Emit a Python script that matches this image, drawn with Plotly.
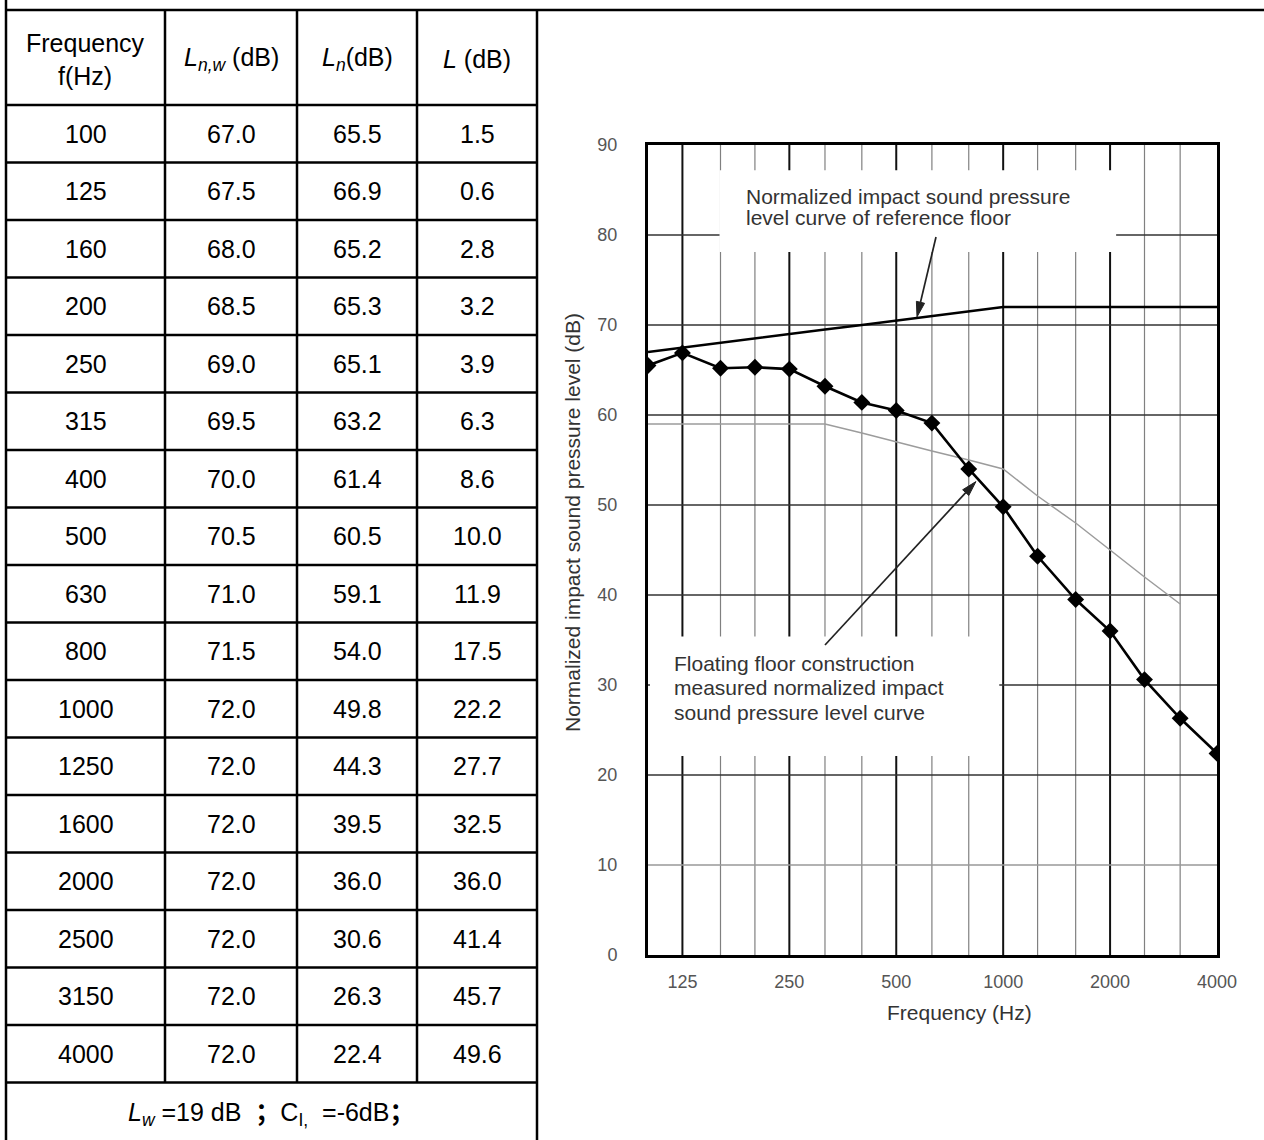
import math
import plotly.graph_objects as go

# ---------------- data ----------------
freq = [100, 125, 160, 200, 250, 315, 400, 500, 630, 800, 1000, 1250, 1600, 2000, 2500, 3150, 4000]
Lnw = [67.0, 67.5, 68.0, 68.5, 69.0, 69.5, 70.0, 70.5, 71.0, 71.5, 72.0, 72.0, 72.0, 72.0, 72.0, 72.0, 72.0]
Ln = [65.5, 66.9, 65.2, 65.3, 65.1, 63.2, 61.4, 60.5, 59.1, 54.0, 49.8, 44.3, 39.5, 36.0, 30.6, 26.3, 22.4]
Ldiff = [1.5, 0.6, 2.8, 3.2, 3.9, 6.3, 8.6, 10.0, 11.9, 17.5, 22.2, 27.7, 32.5, 36.0, 41.4, 45.7, 49.6]

# shifted ISO reference curve (grey thin line)
ref_freq = [100, 125, 160, 200, 250, 315, 400, 500, 630, 800, 1000, 1250, 1600, 2000, 2500, 3150]
ref_val = [59, 59, 59, 59, 59, 59, 58, 57, 56, 55, 54, 51, 48, 45, 42, 39]

header = ["Frequency<br>f(Hz)", "<i>L<sub>n,w</sub></i> (dB)", "<i>L<sub>n</sub></i>(dB)", "<i>L</i> (dB)"]
footer = "<i>L<sub>w</sub></i> =19 dB  <b>；</b>C<sub>I,</sub>  =-6dB<b>；</b>"

x_ticks = [125, 250, 500, 1000, 2000, 4000]
y_ticks = [0, 10, 20, 30, 40, 50, 60, 70, 80, 90]
major_v = [125, 250, 500, 1000, 2000]
minor_v = [160, 200, 315, 400, 630, 800, 1250, 1600, 2500, 3150]
h_grid = [10, 20, 30, 40, 50, 60, 70, 80]

ann1 = ["Normalized impact sound pressure", "level curve of reference floor"]
ann2 = ["Floating floor construction", "measured normalized impact", "sound pressure level curve"]

# ---------------- geometry ----------------
W, H = 1264, 1140
PL, PR, PT, PB = 648, 1217, 145, 955
XMIN, XMAX = 100, 4000
YMAX = 90


def fx(x):
    return (x - PL) / (PR - PL)


def fy(y):
    return (PB - y) / (PB - PT)


def data_px(f, v):
    """pixel position of a (frequency, level) point"""
    x = PL + (PR - PL) * math.log10(f / XMIN) / math.log10(XMAX / XMIN)
    y = PB - (PB - PT) * v / YMAX
    return x, y


TL, TR = 6, 537
COLS = [TL, 165, 297, 417, TR]
TOP = 10
HEAD_B = 105
ROW_H = 57.5
NROWS = len(freq)
TABLE_B = HEAD_B + ROW_H * NROWS

FONT = "Liberation Sans, Arial, Noto Sans CJK SC, sans-serif"

fig = go.Figure()

# grey reference curve
fig.add_trace(go.Scatter(x=ref_freq, y=ref_val, mode="lines",
                         line=dict(color="#9c9c9c", width=1.5), hoverinfo="skip", showlegend=False))
# reference floor curve
fig.add_trace(go.Scatter(x=freq, y=Lnw, mode="lines",
                         line=dict(color="black", width=2.6), showlegend=False))
# measured curve
fig.add_trace(go.Scatter(x=freq, y=Ln, mode="lines+markers",
                         line=dict(color="black", width=2.6),
                         marker=dict(symbol="diamond", size=13, color="black"),
                         showlegend=False))

shapes = []
# grid lines as shapes (shapes on log axes use raw data values)
for f in minor_v:
    shapes.append(dict(type="line", xref="x", yref="y", x0=f, x1=f, y0=0, y1=YMAX,
                       line=dict(color="#808080", width=1.2), layer="below"))
for f in major_v:
    shapes.append(dict(type="line", xref="x", yref="y", x0=f, x1=f, y0=0, y1=YMAX,
                       line=dict(color="#111111", width=2), layer="below"))
for v in h_grid:
    shapes.append(dict(type="line", xref="x", yref="y", x0=XMIN, x1=XMAX, y0=v, y1=v,
                       line=dict(color="#999999" if v == 10 else "#333333", width=1.4), layer="below"))
# white boxes behind the annotation texts
shapes.append(dict(type="rect", xref="x", yref="y", x0=159, x1=2080, y0=78.1, y1=87.2,
                   fillcolor="white", line=dict(width=0), layer="below"))
shapes.append(dict(type="rect", xref="x", yref="y", x0=101.3, x1=975, y0=22.1, y1=35.4,
                   fillcolor="white", line=dict(width=0), layer="below"))


# arrows (shaft + filled head), tail in pixels, tip at a data point
def arrow(tail_px, tip_f, tip_v, head_len=15, head_half=4.2, color="#222222"):
    tx, ty = data_px(tip_f, tip_v)
    sx, sy = tail_px
    dx, dy = tx - sx, ty - sy
    d = math.hypot(dx, dy)
    ux, uy = dx / d, dy / d
    nx, ny = -uy, ux
    bx, by = tx - head_len * ux, ty - head_len * uy
    shapes.append(dict(type="line", xref="paper", yref="paper",
                       x0=fx(sx), y0=fy(sy), x1=fx(bx), y1=fy(by),
                       line=dict(color=color, width=1.7)))
    c1 = (bx + head_half * nx, by + head_half * ny)
    c2 = (bx - head_half * nx, by - head_half * ny)
    path = "M {:.5f},{:.5f} L {:.5f},{:.5f} L {:.5f},{:.5f} Z".format(
        fx(tx), fy(ty), fx(c1[0]), fy(c1[1]), fx(c2[0]), fy(c2[1]))
    shapes.append(dict(type="path", xref="paper", yref="paper", path=path,
                       fillcolor=color, line=dict(color=color, width=1)))


arrow((936, 237), 572, 70.9)
arrow((825, 645), 838, 52.6)

# table lines
TW = 2.5
def pline(x0, y0, x1, y1):
    shapes.append(dict(type="line", xref="paper", yref="paper", x0=fx(x0), x1=fx(x1), y0=fy(y0), y1=fy(y1),
                       line=dict(color="black", width=TW)))

pline(TL, 0, TL, H)
pline(TR, TOP, TR, H)
pline(TL, TOP, W, TOP)
for c in COLS[1:-1]:
    pline(c, TOP, c, TABLE_B)
for k in range(NROWS + 1):
    yy = HEAD_B + k * ROW_H
    pline(TL, yy, TR, yy)

annotations = []
TFS = 25
# header
for i, h in enumerate(header):
    cx = (COLS[i] + COLS[i + 1]) / 2
    annotations.append(dict(xref="paper", yref="paper", x=fx(cx), y=fy((TOP + HEAD_B) / 2 + 2), text=h,
                            showarrow=False, xanchor="center", yanchor="middle",
                            font=dict(family=FONT, size=TFS, color="black")))
# body
for r in range(NROWS):
    cy = HEAD_B + (r + 0.5) * ROW_H
    vals = [str(freq[r]), f"{Lnw[r]:.1f}", f"{Ln[r]:.1f}", f"{Ldiff[r]:.1f}"]
    for i, v in enumerate(vals):
        cx = (COLS[i] + COLS[i + 1]) / 2
        annotations.append(dict(xref="paper", yref="paper", x=fx(cx), y=fy(cy), text=v,
                                showarrow=False, xanchor="center", yanchor="middle",
                                font=dict(family=FONT, size=TFS, color="black")))
# footer
annotations.append(dict(xref="paper", yref="paper", x=fx((TL + TR) / 2), y=fy(1114), text=footer,
                        showarrow=False, xanchor="center", yanchor="middle",
                        font=dict(family=FONT, size=TFS, color="black")))

CFS = 21
CCOL = "#333333"
# chart annotation texts
for i, t in enumerate(ann1):
    annotations.append(dict(xref="x", yref="y", x=math.log10(186), y=84.3 - i * 2.3, text=t,
                            showarrow=False, xanchor="left", yanchor="middle",
                            font=dict(family=FONT, size=CFS, color=CCOL)))
for i, t in enumerate(ann2):
    annotations.append(dict(xref="x", yref="y", x=math.log10(117), y=32.4 - i * 2.7, text=t,
                            showarrow=False, xanchor="left", yanchor="middle",
                            font=dict(family=FONT, size=CFS, color=CCOL)))
# axis titles
annotations.append(dict(xref="paper", yref="paper", x=fx(959), y=fy(1012), text="Frequency (Hz)",
                        showarrow=False, xanchor="center", yanchor="middle",
                        font=dict(family=FONT, size=CFS, color=CCOL)))
annotations.append(dict(xref="paper", yref="paper", x=fx(572), y=fy(523),
                        text="Normalized impact sound pressure level (dB)", textangle=-90,
                        showarrow=False, xanchor="center", yanchor="middle",
                        font=dict(family=FONT, size=CFS, color=CCOL)))

fig.update_layout(
    width=W, height=H,
    margin=dict(l=PL, r=W - PR, t=PT, b=H - PB, pad=0),
    paper_bgcolor="white", plot_bgcolor="white",
    shapes=shapes, annotations=annotations,
    showlegend=False,
    xaxis=dict(type="log", range=[math.log10(XMIN), math.log10(XMAX)], showgrid=False, zeroline=False,
               showline=True, mirror=True, linecolor="black", linewidth=3,
               tickmode="array", tickvals=x_ticks, ticktext=[str(t) for t in x_ticks],
               ticks="", ticklabelstandoff=8,
               tickfont=dict(family=FONT, size=18, color="#555555")),
    yaxis=dict(range=[0, YMAX], showgrid=False, zeroline=False,
               showline=True, mirror=True, linecolor="black", linewidth=3,
               tickmode="array", tickvals=y_ticks, ticks="", ticklabelstandoff=24,
               tickfont=dict(family=FONT, size=18, color="#555555")),
)

fig.write_html("out.html", config={"displayModeBar": False},
               post_script="document.body.style.margin='0';")
